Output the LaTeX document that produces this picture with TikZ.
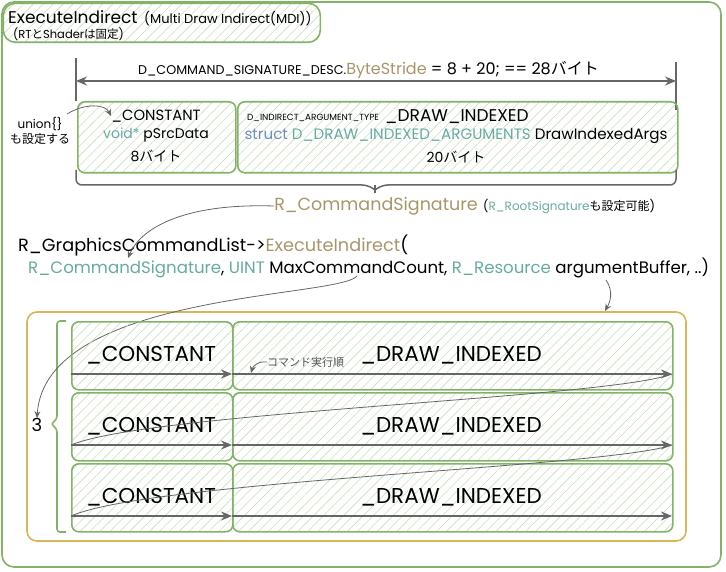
\documentclass[tikz,border=0pt]{standalone}
\usepackage{fontspec}
\setmainfont{Poppins}
\newfontfamily\jpf{Noto Sans CJK JP}
\newcommand{\jp}[1]{{\jpf #1}}
\usetikzlibrary{patterns.meta,arrows.meta}
\definecolor{gb}{HTML}{82B366}
\definecolor{hatch}{HTML}{C8DFBC}
\definecolor{goldc}{HTML}{A8956A}
\definecolor{tealc}{HTML}{67AB9F}
\definecolor{sblue}{HTML}{6C8EBF}
\definecolor{yb}{HTML}{D6B656}
\definecolor{ag}{HTML}{666666}
\newcommand{\fs}[1]{\fontsize{#1}{#1}\selectfont}
\begin{document}
\begin{tikzpicture}[x=1pt,y=-1pt,
  hbox/.style={draw=gb, line width=1.6pt, rounded corners=7pt,
    pattern={Lines[angle=45,distance=7pt,line width=0.6pt]}, pattern color=hatch,
    inner sep=0pt, anchor=north west},
  txt/.style={inner sep=0pt, anchor=west},
  btxt/.style={inner sep=0pt, anchor=base west},
  ctxt/.style={inner sep=0pt, anchor=center},
  thick arrow/.style={draw=ag, line width=1.8pt, -{Stealth[length=11pt,width=9pt]}},
  thin conn/.style={draw=ag, line width=0.8pt},
  thin arrow/.style={draw=ag, line width=0.8pt, -{Stealth[length=7pt,width=6pt]}},
]
\useasboundingbox (0,0) rectangle (726,572);
% outer frame
\draw[gb, line width=1.6pt, rounded corners=12pt] (2,2) rectangle (721,567);
% title box
\node[hbox, minimum width=317pt, minimum height=39pt, rounded corners=12pt] (title) at (3,3) {};
\node[btxt, font=\fs{17}, text depth=0pt] (t1) at (8,24) {ExecuteIndirect};
\node[btxt, font=\fs{13}] (t2) at (144,24) {(Multi Draw Indirect(MDI))};
\node[btxt, font=\fs{11.5}] (t3) at (13,39) {(RT\jp{と}Shader\jp{は固定})};

% measurement
\coordinate (tickL1) at (76,58); \coordinate (tickL2) at (76,101);
\coordinate (tickR1) at (676,62); \coordinate (tickR2) at (676,110);
\draw[ag, line width=1.5pt] (tickL1) -- (tickL2);
\draw[ag, line width=1.5pt] (tickR1) -- (tickR2);
\coordinate (mL) at (76,81); \coordinate (mR) at (676,81);
\draw[ag, line width=1.5pt, {Stealth[length=11pt,width=9pt]}-{Stealth[length=11pt,width=9pt]}] (mL) -- (mR);
\node[btxt, font=\fs{16}] (stride) at (138,75) {\fs{12.7}D\_COMMAND\_SIGNATURE\_DESC.\fs{16}\textcolor{goldc}{ByteStride} = 8 + 20; == 28\jp{バイト}};

% signature boxes
\node[hbox, minimum width=158pt, minimum height=71pt] (cons) at (77,101) {};
\node[hbox, minimum width=440pt, minimum height=71pt] (draw) at (237,101) {};
\node[ctxt, font=\fs{14.8}] (c1) at (156,116) {\_CONSTANT};
\node[ctxt, font=\fs{14}] (c2) at (156,135) {\textcolor{tealc}{void*} pSrcData};
\node[ctxt, font=\fs{14}] (c3) at (156,156) {8\jp{バイト}};
\node[btxt, font=\fs{8.9}] (d0) at (247,121) {D\_INDIRECT\_ARGUMENT\_TYPE};
\node[btxt, font=\fs{17}] (d1) at (385,122) {\_DRAW\_INDEXED};
\node[ctxt, font=\fs{15.1}] (d2) at (456,136) {\textcolor{sblue}{struct} \textcolor{tealc}{D\_DRAW\_INDEXED\_ARGUMENTS} DrawIndexedArgs};
\node[ctxt, font=\fs{14}] (d3) at (456,157) {20\jp{バイト}};

% union note
\node[ctxt, font=\fs{12}, align=center] (union) at (40,131) {union\{\}\\[2pt]\jp{も設定する}};
\coordinate (u0) at (67,114);
\draw[thin arrow] (u0) .. controls (85,103) and (105,104) .. (c1.west);

% brace
\draw[ag, line width=1.5pt, rounded corners=6pt] (76,170) -- (76,185) -- (368,185) -- (375,190);
\draw[ag, line width=1.5pt, rounded corners=6pt] (375,190) -- (382,185) -- (676,185) -- (676,170);
\draw[ag, line width=1.5pt] (375,185) -- (375,193);

% command signature
\node[ctxt, font=\fs{17.5}, text=goldc] (sig) at (376,206) {R\_CommandSignature};
\node[txt, font=\fs{12}] (sig2) at (483,207) {(\textcolor{tealc}{R\_RootSignature}\jp{も設定可能})};

% function call
\node[txt, font=\fs{17.7}] (f1) at (18,246) {R\_GraphicsCommandList->\textcolor{goldc}{ExecuteIndirect}(};
\node[txt, font=\fs{16.6}] (f2) at (28,268) {\textcolor{tealc}{R\_CommandSignature}, \textcolor{tealc}{UINT} MaxCommandCount, \textcolor{tealc}{R\_Resource} argumentBuffer, ..)};
\coordinate (sigArrow) at (128,258);
\draw[thin arrow] (sig.west) .. controls (180,203) and (140,230) .. (sigArrow);
\coordinate (mcc) at (357,276);
\coordinate (argb) at (606,280);

% container
\draw[yb, line width=1.6pt, rounded corners=10pt] (27,312) rectangle (686,541);
\coordinate (contTop) at (605,311);
\draw[thin arrow] (argb) .. controls (614,292) and (610,302) .. (contTop);

% bracket
\draw[gb, line width=1.6pt, rounded corners=3pt] (66,321) -- (57,321) -- (57,419) -- (51,424) -- (57,429) -- (57,532) -- (66,532);
\node[ctxt, font=\fs{18}] (three) at (37,425) {3};
\draw[thin arrow] (mcc) .. controls (340,298) and (45,292) .. (three.north);

% rows
\foreach \i/\y in {1/321,2/392,3/463}{
  \node[hbox, minimum width=161pt, minimum height=68pt] (rc\i) at (71,\y) {};
  \node[hbox, minimum width=440pt, minimum height=68pt] (rd\i) at (232,\y) {};
  \node[ctxt, font=\fs{21.5}] at (151,\y+34) {\_CONSTANT};
  \node[ctxt, font=\fs{21.5}] at (451,\y+34) {\_DRAW\_INDEXED};
  \coordinate (s\i) at (71,\y+53);
  \coordinate (m\i) at (232,\y+53);
  \coordinate (e\i) at (672,\y+53);
  \draw[thick arrow] (s\i) -- (m\i);
  \draw[thick arrow] (m\i) -- (e\i);
}
\draw[thin conn] (e1) .. controls (610,398) and (150,412) .. (s2);
\draw[thin conn] (e2) .. controls (610,467) and (150,481) .. (s3);

% order note
\node[txt, font=\fs{11}, text=ag!80!black] (order) at (267,362) {\jp{コマンド実行順}};
\coordinate (ordArrow) at (251,373);
\draw[thin arrow] (order.west) .. controls (258,361) and (253,366) .. (ordArrow);
\end{tikzpicture}
\end{document}
